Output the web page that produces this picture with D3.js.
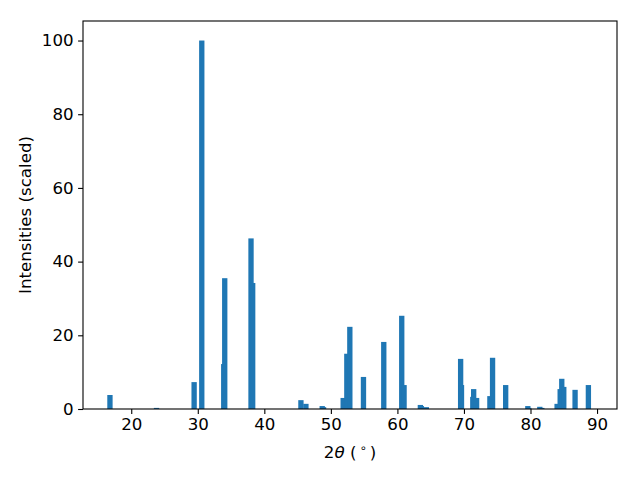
<!DOCTYPE html>
<html>
<head>
<meta charset="utf-8">
<script src="https://cdn.jsdelivr.net/npm/d3@7"></script>
<style>
  body { margin: 0; background: #fff; }
  svg { display: block; }
  text { font-family: "DejaVu Sans", sans-serif; }
</style>
</head>
<body>
<div id="chart"></div>
<script>
// peak positions (2 theta) and scaled intensities
var angles = [16.8, 23.8, 29.45, 30.6, 33.9, 34.05, 38.0, 38.25, 45.5, 46.25,
  48.7, 48.9, 51.85, 52.4, 52.85, 54.9, 57.95, 60.65, 61.0, 63.45,
  63.6, 64.35, 69.5, 69.63, 71.33, 71.46, 71.9, 73.9, 74.3, 76.27,
  79.6, 79.75, 81.4, 81.7, 84.0, 84.46, 84.7, 85.0, 86.7, 88.7];
var intensities = [3.8, 0.3, 7.3, 100, 12.2, 35.5, 46.3, 34.2, 2.4, 1.4,
  0.8, 0.5, 3.0, 15.0, 22.3, 8.7, 18.2, 25.3, 6.5, 1.1,
  0.8, 0.5, 13.6, 6.5, 3.3, 5.4, 3.0, 3.5, 13.9, 6.5,
  0.8, 0.3, 0.6, 0.3, 1.4, 5.4, 8.2, 6.0, 5.2, 6.5];
var xTicks = [20, 30, 40, 50, 60, 70, 80, 90];
var yTicks = [0, 20, 40, 60, 80, 100];

var W = 640, H = 480;
var margin = {top: 21, right: 23, bottom: 71, left: 83};

var svg = d3.select("#chart").append("svg")
  .attr("width", W).attr("height", H);

var x = d3.scaleLinear().domain([12.75, 93.0]).range([margin.left, W - margin.right]);
var y = d3.scaleLinear().domain([0, 105.3]).range([H - margin.bottom, margin.top]);
var barW = 0.8;

svg.append("g")
  .selectAll("rect")
  .data(angles)
  .join("rect")
    .attr("x", function(d) { return x(d - barW / 2); })
    .attr("width", function(d) { return x(d + barW / 2) - x(d - barW / 2); })
    .attr("y", function(d, i) { return y(intensities[i]); })
    .attr("height", function(d, i) { return y(0) - y(intensities[i]); })
    .attr("fill", "#1f77b4");

// osi
var xAxis = svg.append("g")
  .attr("transform", "translate(0," + (H - margin.bottom) + ")")
  .call(d3.axisBottom(x).tickValues(xTicks).tickSize(4.9).tickPadding(4.5));
var yAxis = svg.append("g")
  .attr("transform", "translate(" + margin.left + ",0)")
  .call(d3.axisLeft(y).tickValues(yTicks).tickSize(4.9).tickPadding(4.5));

[xAxis, yAxis].forEach(function(a) {
  a.select(".domain").remove();
  a.selectAll("line").attr("stroke", "#000").attr("stroke-width", 1.1);
  a.selectAll("text").attr("font-size", "16.67px").attr("fill", "#000")
    .attr("font-family", "DejaVu Sans, sans-serif");
});

svg.append("rect")
  .attr("x", margin.left).attr("y", margin.top)
  .attr("width", W - margin.left - margin.right)
  .attr("height", H - margin.top - margin.bottom)
  .attr("fill", "none").attr("stroke", "#000").attr("stroke-width", 1.1);

// naslovi osi
var xl = svg.append("text")
  .attr("x", (margin.left + W - margin.right) / 2)
  .attr("y", 458)
  .attr("text-anchor", "middle")
  .attr("font-size", "16.67px");
xl.append("tspan").text("2");
xl.append("tspan").attr("font-style", "italic").text("θ");
xl.append("tspan").text(" (");
xl.append("tspan").attr("font-size", "11.5px").attr("dy", -6).attr("dx", 3).text("∘");
xl.append("tspan").attr("dy", 6).attr("dx", 3).text(")");

svg.append("text")
  .attr("transform", "translate(31," + ((margin.top + H - margin.bottom) / 2) + ") rotate(-90)")
  .attr("text-anchor", "middle")
  .attr("font-size", "16.67px")
  .text("Intensities (scaled)");
</script>
</body>
</html>
